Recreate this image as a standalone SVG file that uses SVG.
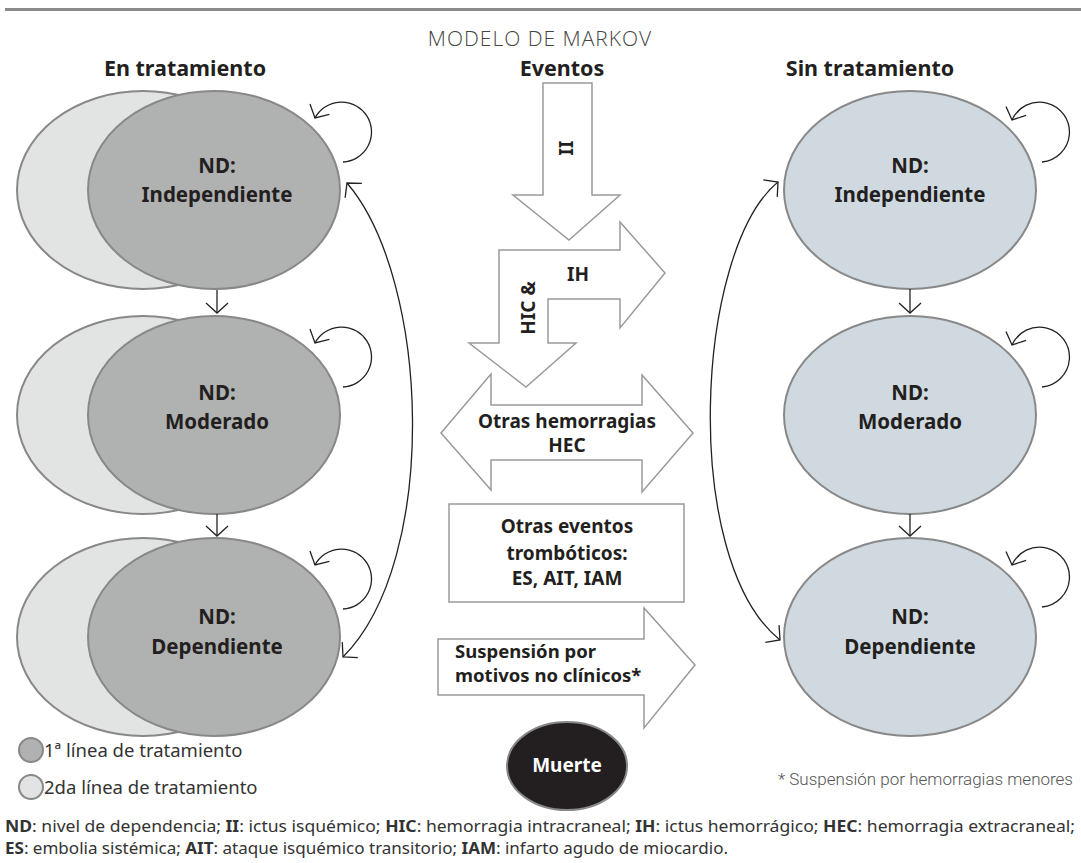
<svg xmlns="http://www.w3.org/2000/svg" width="1081" height="863" viewBox="0 0 1081 863">
<style>
text{font-family:"Noto Sans","Open Sans",sans-serif;fill:#231f20}
.h{font-size:21.5px;font-weight:bold;text-anchor:middle}
.n{font-size:20.5px;font-weight:bold;text-anchor:middle}
.c{font-size:19px;font-weight:bold;text-anchor:middle}
.lt{fill:#e2e3e3;stroke:#888;stroke-width:2}
.dk{fill:#b0b1b1;stroke:#888;stroke-width:2}
.bl{fill:#cfd9df;stroke:#888;stroke-width:2}
.sh{fill:#fff;stroke:#9a9a9a;stroke-width:1.5}
.cn{fill:none;stroke:#222;stroke-width:1.3}
.leg{font-size:18.5px;fill:#333}
.ft{font-size:16px;fill:#333}
.b{font-weight:bold}
</style>
<defs>
<marker id="ah" viewBox="0 0 12 24" refX="11" refY="12" markerWidth="12" markerHeight="24" markerUnits="userSpaceOnUse" orient="auto-start-reverse">
<path d="M1 1 L11 12 L1 23" fill="none" stroke="#222" stroke-width="1.3"/>
</marker>
</defs>
<rect x="5" y="8" width="1076" height="3" fill="#8a8a8a"/>
<text x="540" y="46" text-anchor="middle" style="font-family:'Open Sans','Noto Sans',sans-serif;font-weight:300;font-size:21px;letter-spacing:1px;fill:#444">MODELO DE MARKOV</text>
<text class="h" x="185" y="76">En tratamiento</text>
<text class="h" x="562" y="76">Eventos</text>
<text class="h" x="870" y="76">Sin tratamiento</text>

<g id="t-independiente">
<ellipse class="lt" cx="143" cy="190" rx="126" ry="99"/>
<ellipse class="dk" cx="214" cy="190" rx="126" ry="99"/>
<text class="n" x="217" y="173">ND:</text>
<text class="n" x="217" y="202">Independiente</text>
</g>
<g id="t-moderado">
<ellipse class="lt" cx="143" cy="415" rx="126" ry="99"/>
<ellipse class="dk" cx="214" cy="415" rx="126" ry="99"/>
<text class="n" x="217" y="400">ND:</text>
<text class="n" x="217" y="429">Moderado</text>
</g>
<g id="t-dependiente">
<ellipse class="lt" cx="143" cy="637" rx="126" ry="99"/>
<ellipse class="dk" cx="214" cy="637" rx="126" ry="99"/>
<text class="n" x="217" y="624">ND:</text>
<text class="n" x="217" y="654">Dependiente</text>
</g>

<g id="s-independiente">
<ellipse class="bl" cx="910" cy="190" rx="126" ry="99"/>
<text class="n" x="910" y="173">ND:</text>
<text class="n" x="910" y="202">Independiente</text>
</g>
<g id="s-moderado">
<ellipse class="bl" cx="910" cy="415" rx="126" ry="99"/>
<text class="n" x="910" y="400">ND:</text>
<text class="n" x="910" y="429">Moderado</text>
</g>
<g id="s-dependiente">
<ellipse class="bl" cx="910" cy="637" rx="126" ry="99"/>
<text class="n" x="910" y="624">ND:</text>
<text class="n" x="910" y="654">Dependiente</text>
</g>

<g id="ev-ii">
<polygon class="sh" points="543,83 592,83 592,195 620,195 569,240 513,195 543,195"/>
<text class="c" transform="translate(566,148) rotate(-90)" dominant-baseline="central">II</text>
</g>
<g id="ev-hic-ih">
<polygon class="sh" points="499,250 620,250 620,222 665,273 620,328 620,299 548,299 548,343 576,343 526,387 469,343 499,343"/>
<text class="c" x="578" y="281">IH</text>
<text class="c" transform="translate(528,308) rotate(-90)" dominant-baseline="central">HIC &amp;</text>
</g>
<g id="ev-hec">
<polygon class="sh" points="441,433 491,374 491,405 642,405 642,375 693,433 642,492 642,460 491,460 491,490"/>
<text class="c" x="567" y="428">Otras hemorragias</text>
<text class="c" x="567" y="452">HEC</text>
</g>
<g id="ev-tromb">
<rect class="sh" x="449" y="504" width="235" height="98"/>
<text class="c" x="567" y="533">Otras eventos</text>
<text class="c" x="567" y="560">trombóticos:</text>
<text class="c" x="567" y="585">ES, AIT, IAM</text>
</g>
<g id="ev-susp">
<polygon class="sh" points="438,639 644,639 644,608 695,665 644,728 644,695 438,695"/>
<text class="c" x="455" y="658" style="text-anchor:start;font-size:18.5px">Suspensión por</text>
<text class="c" x="455" y="682" style="text-anchor:start;font-size:18.5px">motivos no clínicos*</text>
</g>
<g id="muerte">
<ellipse cx="567" cy="766" rx="60" ry="44" fill="#231f20" stroke="#888" stroke-width="2"/>
<text class="c" x="567" y="772" style="fill:#fff">Muerte</text>
</g>

<g id="connectors">
<path class="cn" d="M343 162 A30 30 0 1 0 315 118" marker-end="url(#ah)"/>
<path class="cn" d="M343 387 A30 30 0 1 0 315 343" marker-end="url(#ah)"/>
<path class="cn" d="M343 609 A30 30 0 1 0 315 565" marker-end="url(#ah)"/>
<path class="cn" d="M1042 162 A30 30 0 1 0 1012 120" marker-end="url(#ah)"/>
<path class="cn" d="M1042 387 A30 30 0 1 0 1012 345" marker-end="url(#ah)"/>
<path class="cn" d="M1042 607 A30 30 0 1 0 1012 565" marker-end="url(#ah)"/>
<path class="cn" d="M217 290 L217 313" marker-end="url(#ah)"/>
<path class="cn" d="M217 514 L217 536" marker-end="url(#ah)"/>
<path class="cn" d="M910 289 L910 313" marker-end="url(#ah)"/>
<path class="cn" d="M910 514 L910 536" marker-end="url(#ah)"/>
<path class="cn" d="M347 183 C430 280 440 560 343 657" marker-start="url(#ah)" marker-end="url(#ah)"/>
<path class="cn" d="M778 182 C695 250 680 560 780 640" marker-start="url(#ah)" marker-end="url(#ah)"/>
</g>

<g id="legend">
<circle cx="31" cy="750" r="12" class="dk"/>
<text class="leg" x="44" y="757">1ª línea de tratamiento</text>
<circle cx="31" cy="787" r="12" class="lt"/>
<text class="leg" x="44" y="794">2da línea de tratamiento</text>
</g>
<text x="1073" y="785" text-anchor="end" style="font-family:Roboto,'Noto Sans',sans-serif;font-weight:300;font-size:17px;fill:#555">* Suspensión por hemorragias menores</text>
<text class="ft" x="5" y="832" textLength="1070" lengthAdjust="spacingAndGlyphs"><tspan class="b">ND</tspan>: nivel de dependencia; <tspan class="b">II</tspan>: ictus isquémico; <tspan class="b">HIC</tspan>: hemorragia intracraneal; <tspan class="b">IH</tspan>: ictus hemorrágico; <tspan class="b">HEC</tspan>: hemorragia extracraneal;</text>
<text class="ft" x="5" y="854" textLength="723" lengthAdjust="spacingAndGlyphs"><tspan class="b">ES</tspan>: embolia sistémica; <tspan class="b">AIT</tspan>: ataque isquémico transitorio; <tspan class="b">IAM</tspan>: infarto agudo de miocardio.</text>
</svg>
